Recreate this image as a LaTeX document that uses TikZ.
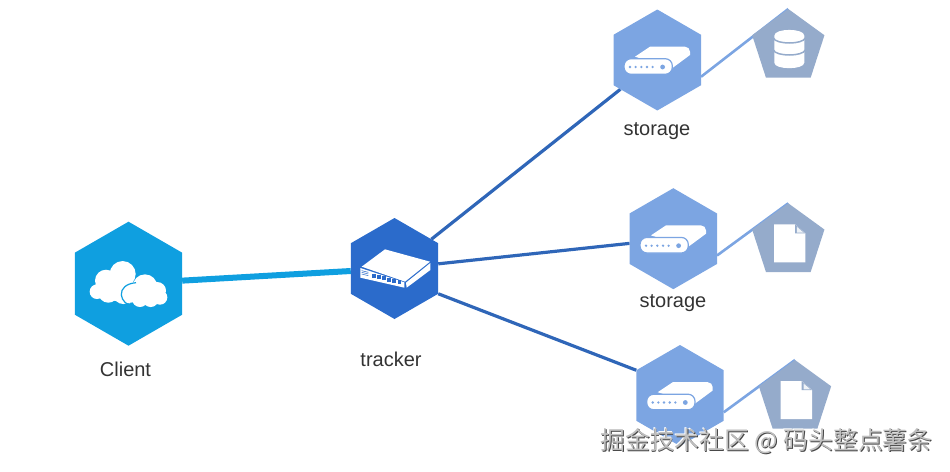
\documentclass[tikz,border=0pt]{standalone}
\usepackage{fontspec}
\setmainfont{Liberation Sans}
\newfontfamily\cjkfont{Noto Sans CJK SC}
\usetikzlibrary{shapes.geometric,backgrounds}
\definecolor{clientblue}{HTML}{0F9FE0}
\definecolor{trackerblue}{HTML}{2B6BCB}
\definecolor{linkblue}{HTML}{2F66B8}
\definecolor{storeblue}{HTML}{7CA5E2}
\definecolor{pentgray}{HTML}{95ABCB}
\definecolor{labelgray}{HTML}{333333}
\tikzset{
  hexa/.style={regular polygon,regular polygon sides=6,regular polygon rotate=30,inner sep=0pt,outer sep=0pt,draw=none},
  clienthex/.style={hexa,minimum size=124pt,fill=clientblue},
  trackerhex/.style={hexa,minimum size=101pt,fill=trackerblue},
  storehex/.style={hexa,minimum size=101pt,fill=storeblue},
  penta/.style={regular polygon,regular polygon sides=5,inner sep=0pt,outer sep=0pt,minimum size=76pt,fill=pentgray,draw=none},
  lbl/.style={font=\fontsize{20}{24}\selectfont,text=labelgray,anchor=base,inner sep=0pt},
  linkclient/.style={draw=clientblue,line width=6pt},
  linktracker/.style={draw=linkblue,line width=3.2pt},
  linkstore/.style={draw=storeblue,line width=2.6pt},
  wm/.style={font=\cjkfont\fontsize{24.8}{28}\selectfont,anchor=center,inner sep=0pt},
}
\newcommand{\deviceicon}[1]{%
  \begin{scope}[shift={(#1)}]
    \fill[white] (-22.3,-3.3) -- (-7.3,-13.3) -- (27.7,-13.3) to[out=0,in=90] (32.7,-8.3) -- (32.7,-5) -- (14.7,8.3) -- cycle;
    \filldraw[white,draw=storeblue,line width=1.2pt,rounded corners=7pt] (-33.3,-1.3) rectangle (15,14.3);
    \foreach \dx in {-27.3,-21.7,-16,-10.3,-4.7}{\fill[storeblue] (\dx,7) circle (1.3);}
    \fill[storeblue] (5.3,7) circle (2.4);
  \end{scope}}
\newcommand{\fileicon}[1]{%
  \begin{scope}[shift={(#1)}]
    \fill[white] (-14.3,-17) -- (6.7,-17) -- (17,-8) -- (17,21) -- (-14.3,21) -- cycle;
    \fill[pentgray] (6.7,-17) -- (17,-8) -- (6.7,-8) -- cycle;
    \fill[white!85!pentgray] (8.5,-14.5) -- (15.5,-8.6) -- (8.5,-8.6) -- cycle;
  \end{scope}}
\begin{document}
\begin{tikzpicture}[x=1pt,y=-1pt]
\useasboundingbox (0,0) rectangle (950,471);
\node[clienthex] (client) at (128.5,283.7) {};
\node[trackerhex] (tracker) at (394.5,268.5) {};
\node[storehex] (s1) at (657.3,60) {};
\node[storehex] (s2) at (673.3,238.7) {};
\node[storehex] (s3) at (680,395.5) {};
\node[penta] (p1) at (788.3,47) {};
\node[penta] (p2) at (788.3,241.3) {};
\node[penta] (p3) at (795,398) {};
\begin{scope}[on background layer]
  \draw[linkclient] (client) -- (tracker);
  \draw[linktracker] (tracker) -- (s1);
  \draw[linktracker] (tracker) -- (s2);
  \draw[linktracker] (tracker.corner 5) -- (s3.corner 2);
  \draw[linkstore] (s1.-21) -- (p1.corner 1);
  \draw[linkstore] (s2.-21) -- (p2.corner 1);
  \draw[linkstore] (s3.-21) -- (p3.corner 1);
\end{scope}
% cloud (units: 1/3 px, origin at crop corner)
\begin{scope}[shift={(client)},x=.3333pt,y=-.3333pt]
  \begin{scope}[shift={(-145.5,-101)}]
  \fill[white] (128,72) circle (39) (78,92) circle (33) (51,125) circle (22) (85,128) circle (30) (130,132) circle (30);
  \fill[white] (60,105) -- (125,60) -- (165,100) -- (150,160) -- (60,145) -- cycle;
  \fill[white] (195,110) circle (37) (232,122) circle (26) (240,142) circle (22) (152,132) circle (26) (180,147) circle (24) (212,147) circle (24) (190,130) circle (32);
  \draw[clientblue,line width=1.2pt] (168,98) .. controls (140,100) and (122,115) .. (124,135) .. controls (126,152) and (140,165) .. (158,169);
  \end{scope}
\end{scope}
% switch (units: 1/3 px, origin at crop corner)
\begin{scope}[shift={(tracker)},x=.3333pt,y=-.3333pt]
  \begin{scope}[shift={(-133.5,-85.5)}]
  \fill[white] (35,80) -- (105,28) -- (240,65) -- (165,125) -- cycle;
  \fill[white] (168,128) -- (241,69) -- (241,90) -- (170,143) -- cycle;
  \fill[white] (31,84) -- (163,127) -- (163,143) -- (31,113) -- cycle;
  \foreach \px/\py in {72/107,87/111,102/115,117/119,132/123,148/127}{\fill[trackerblue] (\px-5.5,\py-6) rectangle (\px+5.5,\py+6);}
  \foreach \py in {92,97,102}{\draw[trackerblue,line width=.5pt] (35,\py) -- (55,\py+5);}
  \end{scope}
\end{scope}
% database
\begin{scope}[shift={(p1)},x=.3333pt,y=-.3333pt]
  \begin{scope}[shift={(-85,-81)}]
  \fill[white] (43,47) .. controls (43,24) and (133,24) .. (133,47) -- (133,128) .. controls (133,150) and (43,150) .. (43,128) -- cycle;
  \draw[pentgray,line width=1.5pt] (40,54) .. controls (48,74) and (128,74) .. (136,54);
  \draw[pentgray,line width=1.5pt] (40,90) .. controls (48,110) and (128,110) .. (136,90);
  \end{scope}
\end{scope}
\fileicon{p2}
\fileicon{p3}
\deviceicon{s1}
\deviceicon{s2}
\deviceicon{s3}
\node[lbl] (lc) at (125.5,376) {Client};
\node[lbl] (lt) at (391,366.7) {tracker};
\node[lbl] (l1) at (657,135) {storage};
\node[lbl] (l2) at (673,307) {storage};
\node[wm,text=white,xshift=-.9pt,yshift=.9pt] (wmhalo) at (766.5,441) {掘金技术社区 @ 码头整点薯条};
\node[wm,text=black!72,xshift=.9pt,yshift=-.9pt] (wmshadow) at (766.5,441) {掘金技术社区 @ 码头整点薯条};
\node[wm,text=black!25] (wmark) at (766.5,441) {掘金技术社区 @ 码头整点薯条};
\end{tikzpicture}
\end{document}
